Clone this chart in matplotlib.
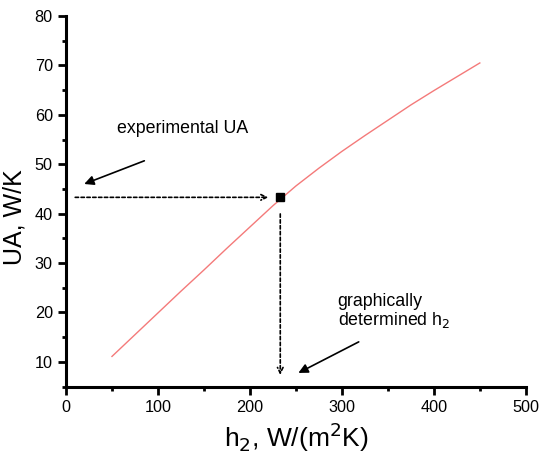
import matplotlib
matplotlib.use('Agg')
import matplotlib.pyplot as plt
from matplotlib.ticker import MultipleLocator

plt.rcParams['font.family'] = ['Liberation Sans', 'DejaVu Sans']

# UA vs h2 curve
h2 = [50, 75, 100, 125, 150, 175, 200, 225, 250, 275, 300, 325, 350, 375, 400, 425, 450]
UA = [11.1, 15.5, 19.9, 24.3, 28.6, 33.0, 37.3, 41.6, 45.6, 49.2, 52.6, 55.8, 58.9, 62.0, 64.9, 67.7, 70.5]

# experimental point
h2_exp = 233
UA_exp = 43.3

fig = plt.figure(figsize=(5.5, 4.58), dpi=100)
ax = fig.add_axes([0.12, 0.156, 0.836, 0.809])

ax.plot(h2, UA, c='#f47a7a', linewidth=1.0)
ax.plot([h2_exp], [UA_exp], 's', c='black', markersize=5.8)

# dashed guide arrows
ax.annotate('', xy=(h2_exp - 10, UA_exp), xytext=(7, UA_exp),
            arrowprops=dict(arrowstyle='->', linestyle=(0, (2, 1.5)), lw=1.2, color='black'))
ax.annotate('', xy=(h2_exp, 6.8), xytext=(h2_exp, UA_exp - 2.8),
            arrowprops=dict(arrowstyle='->', linestyle=(0, (2, 1.5)), lw=1.2, color='black'))

# labelled arrows
ax.annotate('', xy=(17, 45.8), xytext=(88, 50.9),
            arrowprops=dict(arrowstyle='-|>', lw=1.2, color='black', mutation_scale=14))
ax.text(55, 57.3, 'experimental UA', fontsize=12.8, va='center', ha='left')

ax.annotate('', xy=(250, 7.5), xytext=(321, 14.3),
            arrowprops=dict(arrowstyle='-|>', lw=1.2, color='black', mutation_scale=14))
ax.text(295.5, 20.2, 'graphically\ndetermined h$_2$', fontsize=12.8, va='center', ha='left',
        linespacing=1.05)

ax.set_xlim(0, 500)
ax.set_ylim(5, 80)
ax.xaxis.set_major_locator(MultipleLocator(100))
ax.xaxis.set_minor_locator(MultipleLocator(50))
ax.yaxis.set_minor_locator(MultipleLocator(5))
ax.set_yticks([10, 20, 30, 40, 50, 60, 70, 80])

for s in ['top', 'right']:
    ax.spines[s].set_visible(False)
for s in ['left', 'bottom']:
    ax.spines[s].set_linewidth(2.2)

ax.tick_params(axis='both', which='major', labelsize=11.7, length=6, width=2, direction='out')
ax.tick_params(axis='both', which='minor', length=3, width=2, direction='out')

ax.set_xlabel('h$_2$, W/(m$^2$K)', fontsize=19)
ax.set_ylabel('UA, W/K', fontsize=18)
ax.yaxis.set_label_coords(-0.085, 0.458)

plt.savefig('out.png', dpi=100)
